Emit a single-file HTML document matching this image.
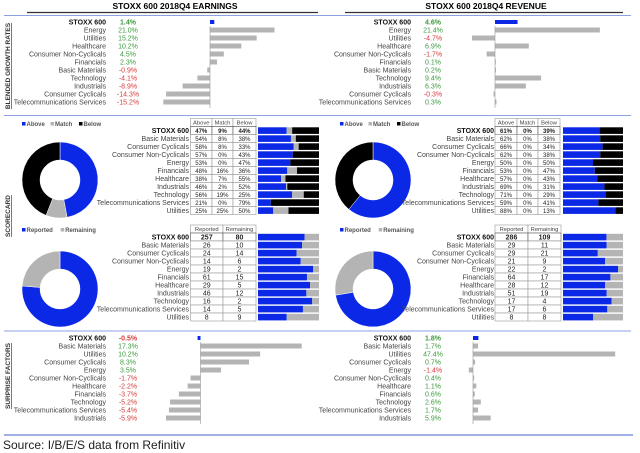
<!DOCTYPE html>
<html><head><meta charset="utf-8">
<style>
html,body{margin:0;padding:0;background:#fff;}
svg{display:block;font-family:"Liberation Sans",sans-serif;}
</style></head>
<body>
<svg id="c" width="640" height="453" viewBox="0 0 640 453" xmlns="http://www.w3.org/2000/svg">
<g>
<text x="175" y="9" font-size="8.5" font-weight="bold" text-anchor="middle">STOXX 600 2018Q4 EARNINGS</text>
<line x1="27" y1="12.5" x2="318" y2="12.5" stroke="#333" stroke-width="1.2"/>
<text x="486" y="9" font-size="8.5" font-weight="bold" text-anchor="middle">STOXX 600 2018Q4 REVENUE</text>
<line x1="345" y1="12.5" x2="623" y2="12.5" stroke="#333" stroke-width="1.2"/>
<line x1="4" y1="15.5" x2="631" y2="15.5" stroke="#8fa0e0" stroke-width="1"/>
<line x1="4" y1="115.5" x2="631" y2="115.5" stroke="#8fa0e0" stroke-width="1"/>
<line x1="4" y1="331" x2="631" y2="331" stroke="#8fa0e0" stroke-width="1"/>
<line x1="4" y1="435" x2="633" y2="435" stroke="#6a7fd0" stroke-width="1.2"/>
<text transform="translate(10,66) rotate(-90)" font-size="6.5" font-weight="bold" text-anchor="middle" text-decoration="underline" fill="#333">BLENDED GROWTH RATES</text>
<text transform="translate(10,216) rotate(-90)" font-size="6.5" font-weight="bold" text-anchor="middle" text-decoration="underline" fill="#333">SCORECARD</text>
<text transform="translate(10,376) rotate(-90)" font-size="6.5" font-weight="bold" text-anchor="middle" text-decoration="underline" fill="#333">SURPRISE FACTORS</text>
<text x="3" y="449" font-size="12" fill="#222">Source: I/B/E/S data from Refinitiv</text>
</g>
</svg>
<script>
const earnCats=["STOXX 600","Energy","Utilities","Healthcare","Consumer Non-Cyclicals","Financials","Basic Materials","Technology","Industrials","Consumer Cyclicals","Telecommunications Services"];
const earnVals=[1.4,21.0,15.2,10.2,4.5,2.3,-0.9,-4.1,-8.9,-14.3,-15.2];
const revCats=["STOXX 600","Energy","Utilities","Healthcare","Consumer Non-Cyclicals","Financials","Basic Materials","Technology","Industrials","Consumer Cyclicals","Telecommunications Services"];
const revVals=[4.6,21.4,-4.7,6.9,-1.7,0.1,0.2,9.4,6.3,-0.3,0.3];

const scoreCats=["STOXX 600","Basic Materials","Consumer Cyclicals","Consumer Non-Cyclicals","Energy","Financials","Healthcare","Industrials","Technology","Telecommunications Services","Utilities"];
const aboveE=[47,54,58,57,53,48,38,46,56,21,25];
const matchE=[9,8,8,0,0,16,7,2,19,0,25];
const belowE=[44,38,33,43,47,36,55,52,25,79,50];
const aboveR=[61,62,66,62,50,53,57,69,71,59,88];
const matchR=[0,0,0,0,0,0,0,0,0,0,0];
const belowR=[39,38,34,38,50,47,43,31,29,41,13];

const reportedE=[257,26,24,14,19,61,29,46,16,14,8];
const remainingE=[80,10,14,6,2,15,5,12,2,5,9];
const reportedR=[286,29,29,21,22,64,28,51,17,17,8];
const remainingR=[109,11,21,9,2,17,12,19,4,6,8];

const surCatsE=["STOXX 600","Basic Materials","Utilities","Consumer Cyclicals","Energy","Consumer Non-Cyclicals","Healthcare","Financials","Technology","Telecommunications Services","Industrials"];
const surValsE=[-0.5,17.3,10.2,8.3,3.5,-1.7,-2.2,-3.7,-5.2,-5.4,-5.9];
const surCatsR=["STOXX 600","Basic Materials","Utilities","Consumer Cyclicals","Energy","Consumer Non-Cyclicals","Healthcare","Financials","Technology","Telecommunications Services","Industrials"];
const surValsR=[1.8,1.7,47.4,0.7,-1.4,0.4,1.1,0.6,2.6,1.7,5.9];

const NS="http://www.w3.org/2000/svg";
const svg=document.getElementById('c');
const BLUE="#0a28e6",GRAY="#b4b4b4",BLACK="#000",GREEN="#3c9a3c",RED="#d83a3a";
function el(tag,attrs,parent){const e=document.createElementNS(NS,tag);for(const k in attrs)e.setAttribute(k,attrs[k]);(parent||svg).appendChild(e);return e;}
function txt(x,y,s,attrs,parent){const t=el('text',Object.assign({x:x,y:y,'font-size':7},attrs),parent);t.textContent=s;return t;}

function barSection(name,cats,vals,labelX,valX,zeroX,scale,top){
  const g=el('g',{});
  
  
  const xs=v=>zeroX+v*scale;
  cats.forEach((c,i)=>{
    const y=top+i*8;
    const bold=i===0;
    const lt=txt(labelX,y+2.5,c,{'text-anchor':'end','font-weight':bold?'bold':'normal',fill:bold?'#111':'#444'},g);
    
    
    const v=vals[i];
    const vt=txt(valX,y+2.5,v.toFixed(1)+'%',{'text-anchor':'middle','font-weight':bold?'bold':'normal',fill:v<0?RED:GREEN},g);
    
    
    const x0=Math.min(xs(0),xs(v)),w=Math.max(Math.abs(xs(v)-xs(0)),0.8);
    const b=el('rect',{x:x0,y:y-(bold?2:2.5),width:w,height:bold?4:5,fill:bold?BLUE:GRAY},g);
    
    
  });
  el('line',{x1:xs(0),y1:top+4,x2:xs(0),y2:top+cats.length*8-2,stroke:'#999','stroke-width':0.6},g);
}
barSection('earnings-growth-chart',earnCats,earnVals,106,128,210,3.07,22);
barSection('revenue-growth-chart',revCats,revVals,411,433,495,4.9,22);
barSection('earnings-surprise-chart',surCatsE,surValsE,106,128,200.5,5.85,338);
barSection('revenue-surprise-chart',surCatsR,surValsR,411,433,473,3.0,338);

function donut(name,cx,cy,vals,colors){
  const g=el('g',{});
  
  
  const R=38,r=20;
  const tot=vals.reduce((a,b)=>a+b,0);
  let a0=0;
  const pt=(rad,a)=>[cx+rad*Math.sin(a*2*Math.PI),cy-rad*Math.cos(a*2*Math.PI)];
  vals.forEach((v,i)=>{
    const f=v/tot;
    if(f<=0)return;
    const a1=a0+f;
    const large=f>0.5?1:0;
    const p1=pt(R,a0),p2=pt(R,a1),p3=pt(r,a1),p4=pt(r,a0);
    const d='M'+p1[0]+','+p1[1]+' A'+R+','+R+' 0 '+large+' 1 '+p2[0]+','+p2[1]+' L'+p3[0]+','+p3[1]+' A'+r+','+r+' 0 '+large+' 0 '+p4[0]+','+p4[1]+' Z';
    const s=el('path',{d:d,fill:colors[i],stroke:'#fff','stroke-width':0.5},g);
    
    
    a0=a1;
  });
}
function legend(name,x,y,items){
  const g=el('g',{});
  
  
  let cx=x;
  items.forEach(([lab,col])=>{
    el('rect',{x:cx,y:y-4,width:3.5,height:3.5,fill:col},g);
    const t=txt(cx+4.5,y,lab,{'font-size':6,'font-weight':'bold',fill:'#555'},g);
    
    
    cx+=4.5+lab.length*3.4+7;
  });
}
function table(name,cats,cols,heads,labelX,colXs,barX,barW,top,segColors){
  const g=el('g',{});
  
  
  const hTop=top-8;
  heads.forEach((h,j)=>{
    el('rect',{x:colXs[j],y:hTop,width:colXs[j+1]-colXs[j],height:8,fill:'#fff',stroke:'#999','stroke-width':0.6},g);
    txt((colXs[j]+colXs[j+1])/2,hTop+6,h,{'font-size':5.8,'text-anchor':'middle',fill:'#444'},g);
  });
  cats.forEach((c,i)=>{
    const y=top+i*8;
    const bold=i===0;
    const lt=txt(labelX-1,y+6.3,c,{'text-anchor':'end','font-weight':bold?'bold':'normal',fill:bold?'#111':'#444'},g);
    
    
    cols.forEach((arr,j)=>{
      el('rect',{x:colXs[j],y:y,width:colXs[j+1]-colXs[j],height:8,fill:'#fff',stroke:bold?'#555':'#999','stroke-width':0.6},g);
      const suf=segColors.length===3?'%':'';
      const t=txt((colXs[j]+colXs[j+1])/2,y+6.3,arr[i]+suf,{'font-size':suf?6:7,'text-anchor':'middle','font-weight':bold?'bold':'normal',fill:'#222'},g);
      
      
    });
    const tot=cols.reduce((a,arr)=>a+arr[i],0);
    let bx=barX;
    cols.forEach((arr,j)=>{
      const w=arr[i]/tot*barW;
      if(w>0){
        const b=el('rect',{x:bx,y:y+0.8,width:w,height:6.6,fill:segColors[j]},g);
        
        
      }
      bx+=w;
    });
  });
}
legend('score-legend-earnings',22,126,[["Above",BLUE],["Match",GRAY],["Below",BLACK]]);
donut('score-donut-earnings',60,180,[aboveE[0],matchE[0],belowE[0]],[BLUE,GRAY,BLACK]);
table('score-table-earnings',scoreCats,[aboveE,matchE,belowE],["Above","Match","Below"],190,[190.5,212,233,256],258,61,126.5,[BLUE,GRAY,BLACK]);
legend('score-legend-revenue',340,126,[["Above",BLUE],["Match",GRAY],["Below",BLACK]]);
donut('score-donut-revenue',373,180,[aboveR[0],matchR[0],belowR[0]],[BLUE,GRAY,BLACK]);
table('score-table-revenue',scoreCats,[aboveR,matchR,belowR],["Above","Match","Below"],495,[495,517,538,560],563,60,126.5,[BLUE,GRAY,BLACK]);
legend('reported-legend-earnings',22,232,[["Reported",BLUE],["Remaining",GRAY]]);
donut('reported-donut-earnings',60,289,[reportedE[0],remainingE[0]],[BLUE,GRAY]);
table('reported-table-earnings',scoreCats,[reportedE,remainingE],["Reported","Remaining"],190,[190.5,223,256],258,61,233,[BLUE,GRAY]);
legend('reported-legend-revenue',340,232,[["Reported",BLUE],["Remaining",GRAY]]);
donut('reported-donut-revenue',373,289,[reportedR[0],remainingR[0]],[BLUE,GRAY]);
table('reported-table-revenue',scoreCats,[reportedR,remainingR],["Reported","Remaining"],495,[495,528,561],563,60,233,[BLUE,GRAY]);
</script>
</body></html>
